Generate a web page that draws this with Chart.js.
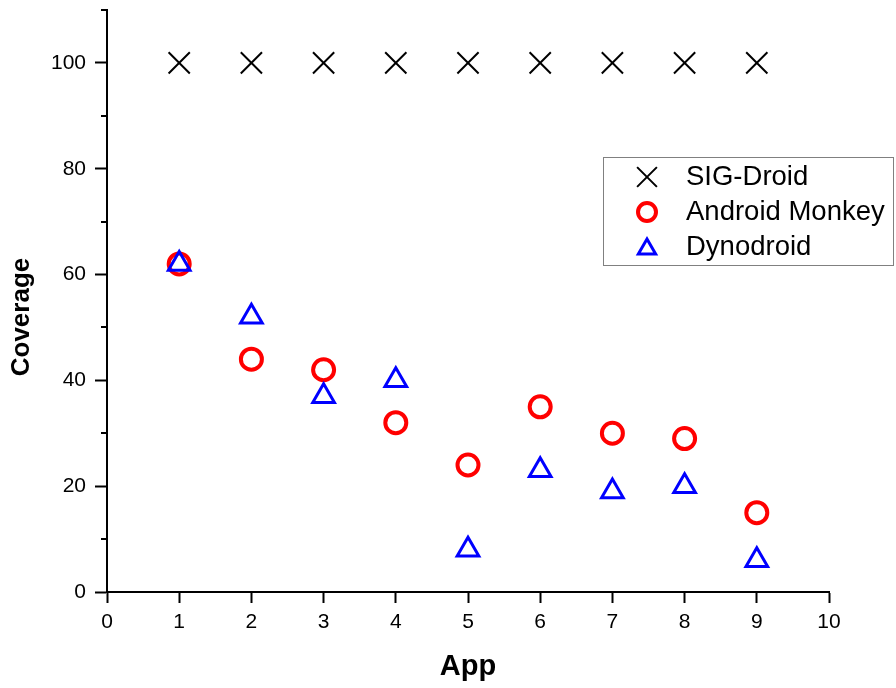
<!DOCTYPE html>
<html lang="en">
<head>
  <meta charset="UTF-8">
  <title>Coverage per App</title>
  <script src="https://cdn.jsdelivr.net/npm/chart.js"></script>
  <style>
    html, body { margin: 0; padding: 0; background: #fff; }
    #wrap { width: 896px; height: 688px; }
  </style>
</head>
<body>
  <div id="wrap"><canvas id="coverageChart" width="896" height="688"></canvas></div>
  <script>
    // data
    const apps = [1, 2, 3, 4, 5, 6, 7, 8, 9];
    const sigDroid = [100, 100, 100, 100, 100, 100, 100, 100, 100];
    const monkey = [62, 44, 42, 32, 24, 35, 30, 29, 15];
    const dynodroid = [62, 52, 37, 40, 8, 23, 19, 20, 6];
    const xTicks = [0, 1, 2, 3, 4, 5, 6, 7, 8, 9, 10];
    const yTicks = [0, 20, 40, 60, 80, 100];
    const yMinorTicks = [10, 30, 50, 70, 90, 110];

    const FONT = "'Liberation Sans', Arial, sans-serif";
    Chart.defaults.font.family = FONT;
    Chart.defaults.color = '#000';

    function points(values) {
      return apps.map((a, i) => ({ x: a, y: values[i] }));
    }

    // small radii used for the legend symbols
    const legendRadius = [14, 9, 10];
    const noPadding = () => ({ left: 0, top: 0, right: 0, bottom: 0 });

    const extras = {
      id: 'extras',
      afterDraw(chart) {
        const ctx = chart.ctx;
        const ys = chart.scales.y;
        ctx.save();
        // minor ticks on the y axis
        ctx.strokeStyle = '#000';
        ctx.lineWidth = 2;
        yMinorTicks.forEach(v => {
          const py = Math.round(ys.getPixelForValue(v));
          ctx.beginPath();
          ctx.moveTo(ys.right - 6, py);
          ctx.lineTo(ys.right, py);
          ctx.stroke();
        });

        // y axis title
        ctx.fillStyle = '#000';
        ctx.font = 'bold 26px ' + FONT;
        ctx.textAlign = 'center';
        ctx.textBaseline = 'middle';
        ctx.translate(22, 317);
        ctx.rotate(-Math.PI / 2);
        ctx.fillText('Coverage', 0, 0);
        ctx.restore();

        // boxed legend
        ctx.save();
        ctx.strokeStyle = '#808080';
        ctx.lineWidth = 1;
        ctx.strokeRect(603.5, 157.5, 290, 108);
        chart.data.datasets.forEach((ds, i) => {
          const y = 177 + i * 35;
          ctx.fillStyle = 'rgba(0,0,0,0)';
          ctx.strokeStyle = ds.borderColor;
          ctx.lineWidth = ds.borderWidth;
          Chart.helpers.drawPoint(ctx, {
            pointStyle: ds.pointStyle,
            radius: legendRadius[i],
            rotation: 0,
            borderWidth: ds.borderWidth
          }, 647, ds.pointStyle === 'triangle' ? y + 2 : y);
          ctx.fillStyle = '#000';
          ctx.font = '27.5px ' + FONT;
          ctx.textAlign = 'left';
          ctx.textBaseline = 'middle';
          ctx.fillText(ds.label, 686, y);
        });
        ctx.restore();
      }
    };

    new Chart(document.getElementById('coverageChart').getContext('2d'), {
      type: 'scatter',
      data: {
        datasets: [
          {
            label: 'SIG-Droid',
            data: points(sigDroid),
            pointStyle: 'crossRot',
            pointRadius: 15,
            borderColor: '#000',
            backgroundColor: 'rgba(0,0,0,0)',
            borderWidth: 2,
            order: 2
          },
          {
            label: 'Android Monkey',
            data: points(monkey),
            pointStyle: 'circle',
            pointRadius: 10.5,
            borderColor: '#ff0000',
            backgroundColor: 'rgba(0,0,0,0)',
            borderWidth: 4,
            order: 1
          },
          {
            label: 'Dynodroid',
            data: points(dynodroid),
            pointStyle: 'triangle',
            pointRadius: 12.5,
            borderColor: '#0000ff',
            backgroundColor: 'rgba(0,0,0,0)',
            borderWidth: 3,
            order: 0
          }
        ]
      },
      options: {
        responsive: false,
        devicePixelRatio: 1,
        animation: false,
        layout: { autoPadding: false, padding: { top: 10, right: 67, left: 0, bottom: 0 } },
        plugins: { legend: { display: false }, tooltip: { enabled: false } },
        scales: {
          x: {
            type: 'linear',
            position: 'bottom',
            min: 0,
            max: 10,
            afterBuildTicks: s => { s.ticks = xTicks.map(v => ({ value: v })); },
            afterFit: s => { s.height = 96; s.getPadding = noPadding; },
            ticks: { font: { size: 21 }, color: '#000', padding: 7, maxRotation: 0 },
            grid: { drawOnChartArea: false, tickLength: 11, tickWidth: 2, tickColor: '#000' },
            border: { color: '#000', width: 2 },
            title: {
              display: true,
              text: 'App',
              color: '#000',
              font: { size: 29, weight: 'bold' },
              padding: { top: 0, bottom: 4 }
            }
          },
          y: {
            type: 'linear',
            position: 'left',
            min: 0,
            max: 110,
            afterBuildTicks: s => { s.ticks = yTicks.map(v => ({ value: v })); },
            afterFit: s => { s.width = 107; s.getPadding = noPadding; },
            ticks: { font: { size: 21 }, color: '#000', padding: 9 },
            grid: { drawOnChartArea: false, tickLength: 12, tickWidth: 2, tickColor: '#000' },
            border: { color: '#000', width: 2 }
          }
        }
      },
      plugins: [extras]
    });
  </script>
</body>
</html>
